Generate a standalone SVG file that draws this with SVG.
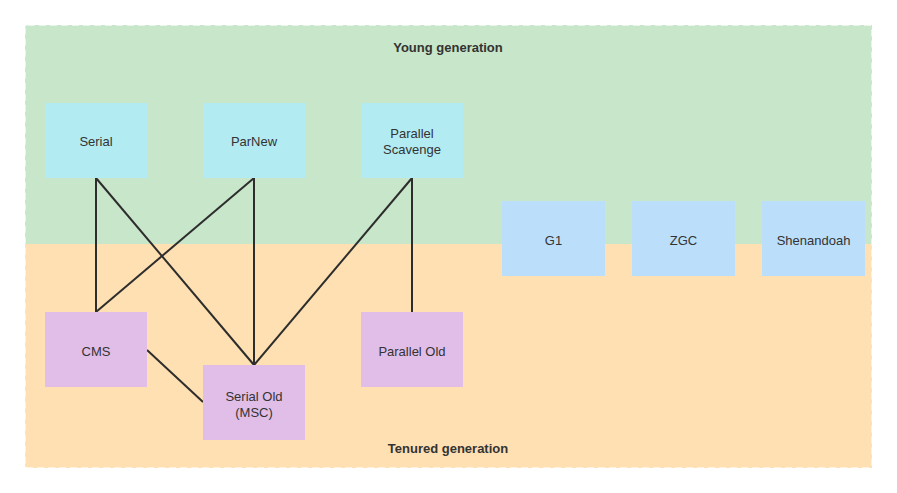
<svg xmlns="http://www.w3.org/2000/svg" width="897" height="493" viewBox="0 0 897 493">
<style>
text{font-family:"Liberation Sans",Arial,sans-serif;font-size:13px;fill:#333;text-anchor:middle;dominant-baseline:central}
.title{font-weight:bold}
.young{fill:#B2EBF2}
.old{fill:#E1BEE7}
.any{fill:#BBDEFB}
.edge{stroke:#2d2d2d;stroke-width:2;fill:none}
.border{fill:none;stroke:#fff;stroke-width:1.5;stroke-dasharray:7 4;stroke-opacity:0.8}
</style>
<rect width="897" height="493" fill="#fff"/>
<g id="regions">
<path d="M28 25 H872 V244 H25 V28 Q25 25 28 25Z" fill="#C8E6C9"/>
<path d="M25 244 H872 V468 H28 Q25 468 25 465Z" fill="#FFE0B2"/>
<rect x="25" y="25" width="847" height="443" rx="3" class="border"/>
<text class="title" x="448" y="47">Young generation</text>
<text class="title" x="448" y="448">Tenured generation</text>
</g>
<g id="connectors">
<line class="edge" x1="96" y1="178" x2="96" y2="312"/>
<line class="edge" x1="96" y1="178" x2="254" y2="365"/>
<line class="edge" x1="254" y1="178" x2="96" y2="312"/>
<line class="edge" x1="254" y1="178" x2="254" y2="365"/>
<line class="edge" x1="412" y1="178" x2="254" y2="365"/>
<line class="edge" x1="412" y1="178" x2="412" y2="312"/>
<line class="edge" x1="147" y1="350" x2="203" y2="402"/>
</g>
<g id="serial"><rect class="young" x="45" y="103" width="102" height="75"/><text x="96" y="141">Serial</text></g>
<g id="parnew"><rect class="young" x="203" y="103" width="102" height="75"/><text x="254" y="141">ParNew</text></g>
<g id="parallel-scavenge"><rect class="young" x="361" y="103" width="102" height="75"/><text x="412" y="133">Parallel</text><text x="412" y="149">Scavenge</text></g>
<g id="g1"><rect class="any" x="502" y="201" width="103" height="75"/><text x="553.5" y="240">G1</text></g>
<g id="zgc"><rect class="any" x="632" y="201" width="103" height="75"/><text x="683.5" y="240">ZGC</text></g>
<g id="shenandoah"><rect class="any" x="762" y="201" width="103" height="75"/><text x="813.5" y="240">Shenandoah</text></g>
<g id="cms"><rect class="old" x="45" y="312" width="102" height="75"/><text x="96" y="351">CMS</text></g>
<g id="serial-old"><rect class="old" x="203" y="365" width="102" height="75"/><text x="254" y="396">Serial Old</text><text x="254" y="412">(MSC)</text></g>
<g id="parallel-old"><rect class="old" x="361" y="312" width="102" height="75"/><text x="412" y="351">Parallel Old</text></g>
</svg>
